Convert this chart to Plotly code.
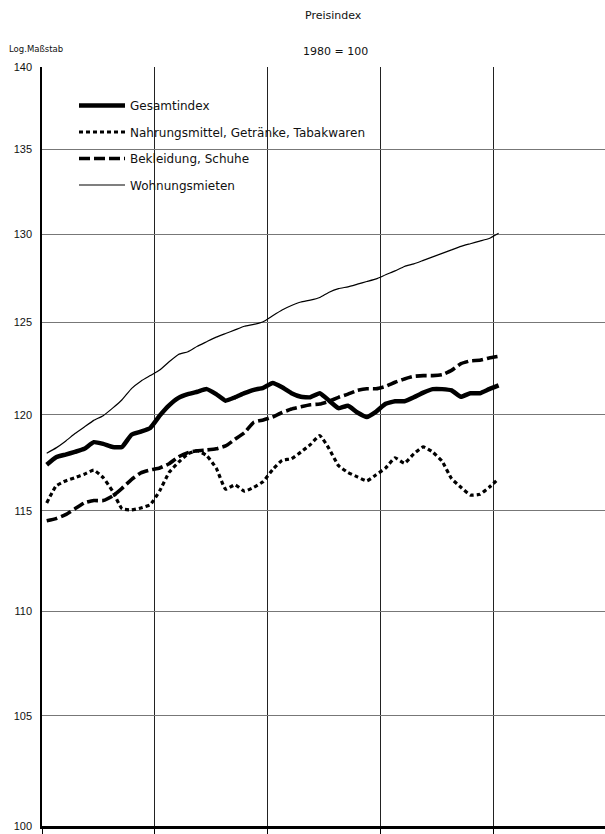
import plotly.graph_objects as go

# Monthly observations (index 0..48), 1980 = 100, log scale
monat = list(range(49))

gesamtindex = [117.37, 117.76, 117.9, 118.04, 118.2, 118.55, 118.46, 118.3, 118.3, 118.94, 119.1, 119.3,
               119.95, 120.5, 120.9, 121.1, 121.23, 121.37, 121.1, 120.75, 120.93, 121.15, 121.33, 121.44, 121.7,
               121.47, 121.15, 120.96, 120.93, 121.15, 120.75, 120.35, 120.48, 120.12, 119.88, 120.17, 120.58,
               120.72, 120.72, 120.93, 121.18, 121.37, 121.37, 121.3, 120.96, 121.15, 121.15, 121.37, 121.57]

nahrungsmittel = [115.4, 116.27, 116.53, 116.7, 116.88, 117.09, 116.7, 116.0, 115.1, 115.04, 115.14, 115.31,
                  116.02, 116.97, 117.5, 117.94, 118.1, 117.84, 117.2, 116.1, 116.33, 116.0, 116.2, 116.5, 117.12,
                  117.6, 117.68, 118.03, 118.42, 118.9, 118.2, 117.32, 116.97, 116.74, 116.53, 116.85, 117.2,
                  117.73, 117.45, 117.94, 118.3, 118.03, 117.55, 116.65, 116.2, 115.8, 115.84, 116.2, 116.65]

bekleidung = [114.49, 114.6, 114.8, 115.1, 115.4, 115.52, 115.52, 115.75, 116.15, 116.6, 116.95, 117.1,
              117.2, 117.42, 117.78, 118.0, 118.1, 118.14, 118.2, 118.35, 118.7, 119.05, 119.6, 119.72, 119.88,
              120.12, 120.3, 120.42, 120.53, 120.57, 120.72, 120.93, 121.1, 121.3, 121.39, 121.39, 121.52,
              121.74, 121.92, 122.06, 122.1, 122.1, 122.15, 122.38, 122.75, 122.9, 122.93, 123.06, 123.15]

wohnungsmieten = [117.97, 118.25, 118.6, 119.0, 119.35, 119.7, 119.95, 120.35, 120.8, 121.4, 121.8, 122.1,
                  122.4, 122.85, 123.25, 123.4, 123.7, 123.95, 124.2, 124.4, 124.6, 124.8, 124.9, 125.05, 125.38,
                  125.7, 125.95, 126.15, 126.25, 126.4, 126.7, 126.9, 127.0, 127.15, 127.3, 127.45, 127.68,
                  127.9, 128.15, 128.3, 128.5, 128.7, 128.9, 129.1, 129.3, 129.45, 129.6, 129.75, 130.05]

y_ticks = [100, 105, 110, 115, 120, 125, 130, 135, 140]
y_tick_labels = [str(v) for v in y_ticks]
year_ticks = [0, 12, 24, 36, 48]

x = [m + 0.5 for m in monat]

FONT = "DejaVu Sans"

fig = go.Figure()
series = [
    ("Gesamtindex", gesamtindex, dict(color="black", width=4.5)),
    ("Nahrungsmittel, Getränke, Tabakwaren", nahrungsmittel, dict(color="black", width=3.2, dash="4px,3px")),
    ("Bekleidung, Schuhe", bekleidung, dict(color="black", width=3.6, dash="11px,4px")),
    ("Wohnungsmieten", wohnungsmieten, dict(color="black", width=1.2)),
]
for name, vals, line in series:
    fig.add_trace(go.Scatter(x=x, y=vals, mode="lines", name=name, line=line,
                             legendgroup=name, line_shape="spline", line_smoothing=0.4))

W, H = 605, 834
L, R, T, B = 42, 0, 67, 8
pw, ph = W - L - R, H - T - B

def px_to_paper_x(px):
    return (px - L) / pw

def px_to_paper_y(py):
    return (H - B - py) / ph

# white patch behind the legend (covers gridlines as in the original)
fig.add_shape(type="rect", xref="paper", yref="paper",
              x0=px_to_paper_x(72), x1=px_to_paper_x(262),
              y0=px_to_paper_y(202), y1=px_to_paper_y(93),
              fillcolor="white", line_width=0, layer="between")

fig.add_annotation(text="Preisindex", xref="paper", yref="paper",
                   x=px_to_paper_x(333), y=px_to_paper_y(16), showarrow=False,
                   xanchor="center", yanchor="middle",
                   font=dict(family=FONT, size=11, color="#111"))
fig.add_annotation(text="1980 = 100", xref="paper", yref="paper",
                   x=px_to_paper_x(335), y=px_to_paper_y(51), showarrow=False,
                   xanchor="center", yanchor="middle",
                   font=dict(family=FONT, size=11, color="#111"))
fig.add_annotation(text="Log.Maßstab", xref="paper", yref="paper",
                   x=px_to_paper_x(7), y=px_to_paper_y(49), xanchor="left", yanchor="middle",
                   showarrow=False, font=dict(family=FONT, size=8.5, color="#111"))

fig.update_layout(
    width=W, height=H,
    margin=dict(l=L, r=R, t=T, b=B, autoexpand=False),
    paper_bgcolor="white", plot_bgcolor="white",
    font=dict(family=FONT, color="#111"),
    showlegend=True,
    legend=dict(xref="paper", yref="paper", x=px_to_paper_x(74), y=px_to_paper_y(91),
                xanchor="left", yanchor="top", bgcolor="rgba(0,0,0,0)",
                font=dict(family=FONT, size=12, color="#111"),
                tracegroupgap=7.5, itemwidth=46),
    xaxis=dict(range=[0, 59.8], tickvals=year_ticks, ticktext=[""] * len(year_ticks),
               showgrid=True, gridcolor="#222", gridwidth=1.3,
               showline=True, linecolor="black", linewidth=2.5,
               ticks="outside", ticklen=7, tickwidth=1.3, tickcolor="black",
               zeroline=False, fixedrange=True),
    yaxis=dict(type="log", range=[2, 2.146128], tickvals=y_ticks, ticktext=y_tick_labels,
               showgrid=True, gridcolor="#777", gridwidth=1,
               showline=True, linecolor="black", linewidth=1.5,
               ticks="", ticklabelstandoff=6,
               tickfont=dict(family="Liberation Sans", size=11, color="#111"),
               zeroline=False, fixedrange=True),
)

fig.write_html(
    "out.html",
    config={"displayModeBar": False},
    post_script="document.body.style.margin='0';document.body.style.overflow='hidden';",
)
